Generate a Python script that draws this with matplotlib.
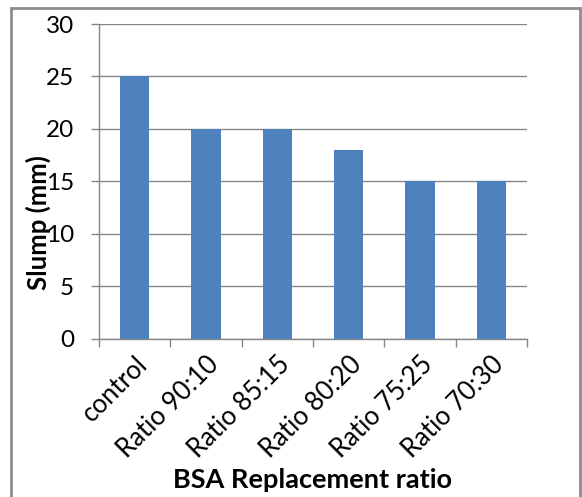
import matplotlib
matplotlib.use("Agg")
import matplotlib.pyplot as plt
from matplotlib.patches import Rectangle
from matplotlib.ticker import FixedLocator, MultipleLocator

categories = ["control", "Ratio 90:10", "Ratio 85:15", "Ratio 80:20",
              "Ratio 75:25", "Ratio 70:30"]
slump_mm = [25, 20, 20, 18, 15, 15]

plt.rcParams["font.family"] = ["Lato", "DejaVu Sans"]

fig = plt.figure(figsize=(5.82, 4.97), dpi=100)
ax = fig.add_axes([0.1701, 0.318, 0.7354, 0.6337])

grey = "#868686"
x = list(range(len(categories)))
ax.bar(x, slump_mm, width=0.41, color="#4F81BD", zorder=3)

ax.set_xlim(-0.5, len(categories) - 0.5)
ax.set_ylim(0, 30)
ax.yaxis.set_major_locator(MultipleLocator(5))
ax.grid(axis="y", color=grey, linewidth=1.0, zorder=0)

for side in ("top", "right"):
    ax.spines[side].set_visible(False)
for side in ("left", "bottom"):
    ax.spines[side].set_color(grey)
    ax.spines[side].set_linewidth(1.0)

ax.set_xticks(x)
ax.set_xticklabels(categories, rotation=45, ha="right", va="top",
                   rotation_mode="anchor", fontsize=18.5)
ax.tick_params(axis="x", which="major", length=0, pad=9)
ax.xaxis.set_minor_locator(FixedLocator([i - 0.5 for i in range(len(categories) + 1)]))
ax.tick_params(axis="x", which="minor", length=6, color=grey, width=1.0)
ax.tick_params(axis="y", length=6, color=grey, width=1.0, pad=12, labelsize=17.5)

ax.set_xlabel("BSA Replacement ratio", fontsize=19.5, fontweight="bold")
ax.xaxis.set_label_coords(0.5, -0.41)
ax.set_ylabel("Slump (mm)", fontsize=18.5, fontweight="bold")
ax.yaxis.set_label_coords(-0.112, 0.37)

fig.patches.append(Rectangle((11 / 582, -0.05), (580 - 11) / 582, 1.05 - 8 / 497,
                             transform=fig.transFigure, fill=False,
                             edgecolor="#8C8C8C", linewidth=2.0))

fig.savefig("out.png", dpi=100)
